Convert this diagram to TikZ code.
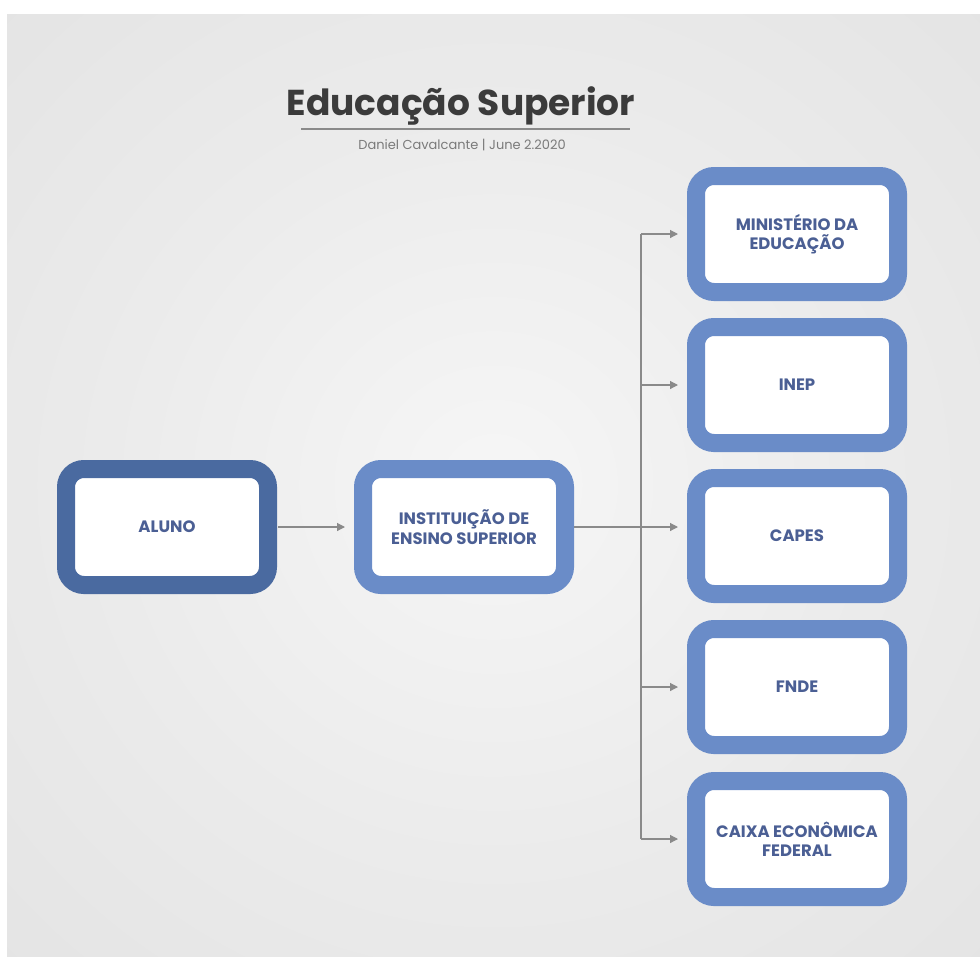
\documentclass[tikz,border=0pt]{standalone}
\usepackage{fontspec}
\setmainfont{Poppins}
\usetikzlibrary{arrows.meta,calc}

\definecolor{bglight}{HTML}{F6F6F6}
\definecolor{bgmid}{HTML}{EBEBEB}
\definecolor{bgdark}{HTML}{DEDEDE}
\definecolor{darkblue}{HTML}{4A6AA0}
\definecolor{lightblue}{HTML}{6A8CC8}
\definecolor{labelblue}{HTML}{4B5F94}
\definecolor{titlegray}{HTML}{3B3B3B}
\definecolor{subgray}{HTML}{7A7A7A}
\definecolor{linegray}{HTML}{8A8A8A}

% soft light spot in the middle of the page
\pgfdeclareradialshading{backdrop}{\pgfpoint{0bp}{0bp}}{color(0bp)=(bglight); color(20bp)=(bgmid); color(50bp)=(bgdark); color(100bp)=(bgdark)}

\begin{document}
\begin{tikzpicture}[x=1pt,y=-1pt]
  \tikzset{box/.style = {draw=lightblue, line width=18pt, fill=white, rounded corners=18pt,
      minimum width=202pt, minimum height=116pt, outer sep=9pt, align=center,
      text=labelblue, font=\fontsize{16.5}{19.5}\selectfont\bfseries}}
  \tikzset{student/.style = {box, draw=darkblue}}
  \tikzset{link/.style = {draw=linegray, line width=1.2pt}}
  \tikzset{arrow/.style = {link, -{Triangle[length=8pt,width=8pt]}, shorten >=9pt}}

  \useasboundingbox (0,0) rectangle (980,956);

  % background
  \fill[white] (0,0) rectangle (980,956);
  \shade[shading=backdrop] (7,14) rectangle (980,956);

  % heading
  \node[anchor=base, text=titlegray, font=\fontsize{36}{36}\selectfont\bfseries] (title) at (461,115) {Educação Superior};
  \coordinate (ruleL) at (301,129);
  \coordinate (ruleR) at (630,129);
  \draw[link, line width=1.4pt] (ruleL) -- (ruleR);
  \node[anchor=base, text=subgray, font=\fontsize{13}{14}\selectfont] (byline) at (462,149) {Daniel Cavalcante | June 2.2020};

  % boxes
  \node[student] (aluno) at (167,527) {ALUNO};
  \node[box] (ies) at (464,527) {INSTITUIÇÃO DE\\ENSINO SUPERIOR};
  \foreach \name/\y/\txt in {mec/234/{MINISTÉRIO DA\\EDUCAÇÃO}, inep/385/INEP, capes/536/CAPES,
      fnde/687/FNDE, caixa/839/{CAIXA ECONÔMICA\\FEDERAL}}
  {
    \node[box] (\name) at (797,\y) {\txt};
  }

  % arrows
  \coordinate (trunk) at (641,0);
  \draw[arrow, shorten <=1pt] (aluno) -- (ies);
  \draw[link] (trunk |- mec) -- (trunk |- caixa);
  \draw[arrow] (ies) -- (ies -| capes.west);
  \foreach \b in {mec,inep,fnde,caixa} {\draw[arrow] (trunk |- \b) -- (\b);}

\end{tikzpicture}
\end{document}
